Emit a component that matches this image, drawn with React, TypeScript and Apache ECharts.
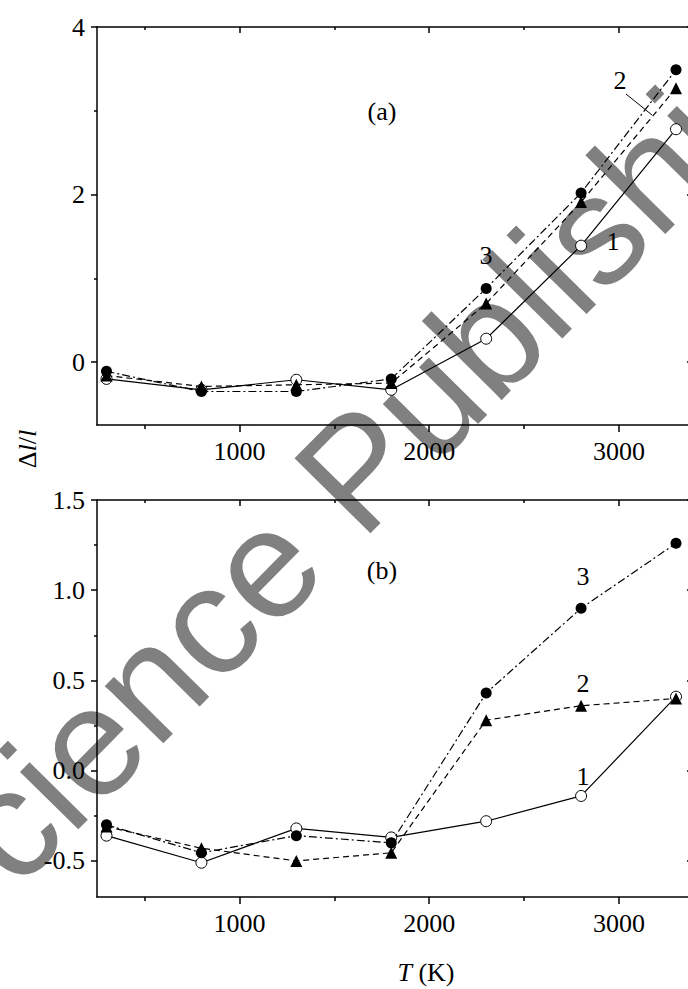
import React, { useEffect, useRef } from 'react';
import * as echarts from 'echarts';

// ---- data ----
const temperatures = [300, 800, 1300, 1800, 2300, 2800, 3300];
// panel (a)
const panelA_curve1 = [-0.2, -0.33, -0.21, -0.33, 0.28, 1.39, 2.78];
const panelA_curve2 = [-0.16, -0.29, -0.27, -0.25, 0.7, 1.91, 3.27];
const panelA_curve3 = [-0.11, -0.35, -0.35, -0.2, 0.88, 2.02, 3.49];
// panel (b)
const panelB_curve1 = [-0.36, -0.51, -0.32, -0.37, -0.28, -0.14, 0.41];
const panelB_curve2 = [-0.31, -0.43, -0.5, -0.455, 0.28, 0.36, 0.4];
const panelB_curve3 = [-0.3, -0.455, -0.36, -0.4, 0.43, 0.9, 1.26];

const xMajorTicks = [1000, 2000, 3000];
const xMinorTicks = [500, 1500, 2500];
const yMajorTicksA = [0, 2, 4];
const yMinorTicksA = [1, 3];
const yMajorTicksB = [-0.5, 0, 0.5, 1.0, 1.5];
const yMinorTicksB = [-0.25, 0.25, 0.75, 1.25];

const X_MIN = 250;
const X_MAX = 3400;
const Y_RANGE_A = [-0.75, 4];
const Y_RANGE_B = [-0.7, 1.5];

const SERIF = 'Liberation Serif';
const SANS = 'Liberation Sans';
const BLACK = '#000';

const tickStyle = { color: BLACK, width: 1.5 };
const axisLineStyle = { color: BLACK, width: 1.5 };

function xAxesFor(grid: number) {
  const base = { type: 'value', gridIndex: grid, min: X_MIN, max: X_MAX, splitLine: { show: false }, axisLabel: { show: false } };
  return [
    {
      ...base,
      position: 'bottom',
      axisLine: { show: true, onZero: false, lineStyle: axisLineStyle },
      axisTick: { show: true, inside: false, length: 7, customValues: xMajorTicks, lineStyle: tickStyle },
    },
    {
      ...base,
      position: 'bottom',
      axisLine: { show: false, onZero: false },
      axisTick: { show: true, inside: false, length: 4, customValues: xMinorTicks, lineStyle: tickStyle },
    },
    {
      ...base,
      position: 'top',
      axisLine: { show: true, onZero: false, lineStyle: axisLineStyle },
      axisTick: { show: true, inside: true, length: 6, customValues: xMajorTicks, lineStyle: tickStyle },
    },
    {
      ...base,
      position: 'top',
      axisLine: { show: false, onZero: false },
      axisTick: { show: true, inside: true, length: 3, customValues: xMinorTicks, lineStyle: tickStyle },
    },
  ];
}

function yAxesFor(grid: number, range: number[], major: number[], minor: number[]) {
  const base = {
    type: 'value',
    gridIndex: grid,
    min: range[0],
    max: range[1],
    splitLine: { show: false },
    axisLabel: { show: false },
  };
  return [
    {
      ...base,
      position: 'left',
      axisLine: { show: true, onZero: false, lineStyle: axisLineStyle },
      axisTick: { show: true, inside: false, length: 6, customValues: major, lineStyle: tickStyle },
    },
    {
      ...base,
      position: 'left',
      axisLine: { show: false, onZero: false },
      axisTick: { show: true, inside: false, length: 3, customValues: minor, lineStyle: tickStyle },
    },
    {
      ...base,
      position: 'right',
      axisLine: { show: true, onZero: false, lineStyle: axisLineStyle },
      axisTick: { show: true, inside: true, length: 8, customValues: major, lineStyle: tickStyle },
    },
    {
      ...base,
      position: 'right',
      axisLine: { show: false, onZero: false },
      axisTick: { show: true, inside: true, length: 4, customValues: minor, lineStyle: tickStyle },
    },
  ];
}

function makeSeries(values: number[], xi: number, yi: number, kind: 1 | 2 | 3) {
  const lineType: any = kind === 1 ? 'solid' : kind === 2 ? [6, 4] : [8, 3, 2, 3];
  const symbol = kind === 2 ? 'triangle' : 'circle';
  const itemStyle =
    kind === 1
      ? { color: '#fff', borderColor: BLACK, borderWidth: 1 }
      : { color: BLACK, borderColor: BLACK, borderWidth: 0 };
  return {
    type: 'line',
    xAxisIndex: xi,
    yAxisIndex: yi,
    data: temperatures.map((t, i) => [t, values[i]]),
    symbol,
    symbolSize: kind === 2 ? 12 : 11,
    showSymbol: true,
    lineStyle: { color: BLACK, width: 1.2, type: lineType },
    itemStyle,
    z: kind === 1 ? 2 : kind === 3 ? 3 : 4,
    silent: true,
  };
}

function txt(text: string, x: number, y: number, align = 'center', verticalAlign = 'middle') {
  return {
    type: 'text',
    x,
    y,
    z: 50,
    silent: true,
    style: { text, fontSize: 26, fontFamily: SERIF, fill: BLACK, align, verticalAlign },
  };
}

const WM_ANGLE = (45.4 * Math.PI) / 180;

export default function App() {
  const ref = useRef<HTMLDivElement>(null);
  useEffect(() => {
    if (!ref.current) return;
    const chart = echarts.init(ref.current, null, { renderer: 'svg' });
    const option: any = {
      animation: false,
      backgroundColor: '#fff',
      grid: [
        { left: 97, top: 27, width: 598, height: 398 },
        { left: 97, top: 500, width: 598, height: 397 },
      ],
      xAxis: [...xAxesFor(0), ...xAxesFor(1)],
      yAxis: [
        ...yAxesFor(0, Y_RANGE_A, yMajorTicksA, yMinorTicksA),
        ...yAxesFor(1, Y_RANGE_B, yMajorTicksB, yMinorTicksB),
      ],
      series: [
        makeSeries(panelA_curve1, 0, 0, 1),
        makeSeries(panelA_curve2, 0, 0, 2),
        makeSeries(panelA_curve3, 0, 0, 3),
        makeSeries(panelB_curve1, 4, 4, 1),
        makeSeries(panelB_curve2, 4, 4, 2),
        makeSeries(panelB_curve3, 4, 4, 3),
      ],
    };
    chart.setOption(option);

    // tick labels placed through the axes' own scales
    const graphics: any[] = [];
    const panels = [
      { axis: 0, yRange: Y_RANGE_A, yTicks: yMajorTicksA, fmt: (v: number) => String(v) },
      { axis: 4, yRange: Y_RANGE_B, yTicks: yMajorTicksB, fmt: (v: number) => v.toFixed(1) },
    ];
    panels.forEach((p) => {
      const bottom = chart.convertToPixel({ yAxisIndex: p.axis }, p.yRange[0]) as number;
      const left = chart.convertToPixel({ xAxisIndex: p.axis }, X_MIN) as number;
      xMajorTicks.forEach((v) => {
        const px = chart.convertToPixel({ xAxisIndex: p.axis }, v) as number;
        graphics.push(txt(String(v), px, bottom + 13, 'center', 'top'));
      });
      p.yTicks.forEach((v) => {
        const py = chart.convertToPixel({ yAxisIndex: p.axis }, v) as number;
        graphics.push(txt(p.fmt(v), left - 12, py, 'right', 'middle'));
      });
    });

    graphics.push(
      // watermark
      {
        type: 'text',
        x: -94,
        y: 928,
        rotation: WM_ANGLE,
        z: -10,
        silent: true,
        style: {
          text: 'Science Publishing Group',
          fontSize: 155,
          fontFamily: SANS,
          fill: '#808080',
          align: 'left',
          verticalAlign: 'middle',
        },
      },
      // panel annotations
      txt('(a)', 382, 111),
      txt('3', 486, 255),
      txt('2', 620, 80),
      txt('1', 613, 241),
      {
        type: 'line',
        z: 50,
        silent: true,
        shape: { x1: 626, y1: 94, x2: 652, y2: 115 },
        style: { stroke: BLACK, lineWidth: 1 },
      },
      txt('(b)', 382, 570),
      txt('3', 583, 576),
      txt('2', 583, 683),
      txt('1', 583, 776),
      // axis titles
      {
        type: 'text',
        x: 27,
        y: 449,
        rotation: Math.PI / 2,
        z: 50,
        silent: true,
        style: {
          text: 'Δ{i|l}/{i|l}',
          fontSize: 26,
          fontFamily: SERIF,
          fill: BLACK,
          align: 'center',
          verticalAlign: 'middle',
          rich: { i: { fontStyle: 'italic', fontSize: 26, fontFamily: SERIF, fill: BLACK } },
        },
      },
      {
        type: 'text',
        x: 426,
        y: 972,
        z: 50,
        silent: true,
        style: {
          text: '{i|T} (K)',
          fontSize: 26,
          fontFamily: SERIF,
          fill: BLACK,
          align: 'center',
          verticalAlign: 'middle',
          rich: { i: { fontStyle: 'italic', fontSize: 26, fontFamily: SERIF, fill: BLACK } },
        },
      }
    );
    chart.setOption({ graphic: graphics });
    return () => chart.dispose();
  }, []);
  return (
    <div style={{ position: 'fixed', left: 0, top: 0, width: 688, height: 989, overflow: 'hidden', background: '#fff' }}>
      <div ref={ref} style={{ width: 720, height: 989 }} />
    </div>
  );
}
